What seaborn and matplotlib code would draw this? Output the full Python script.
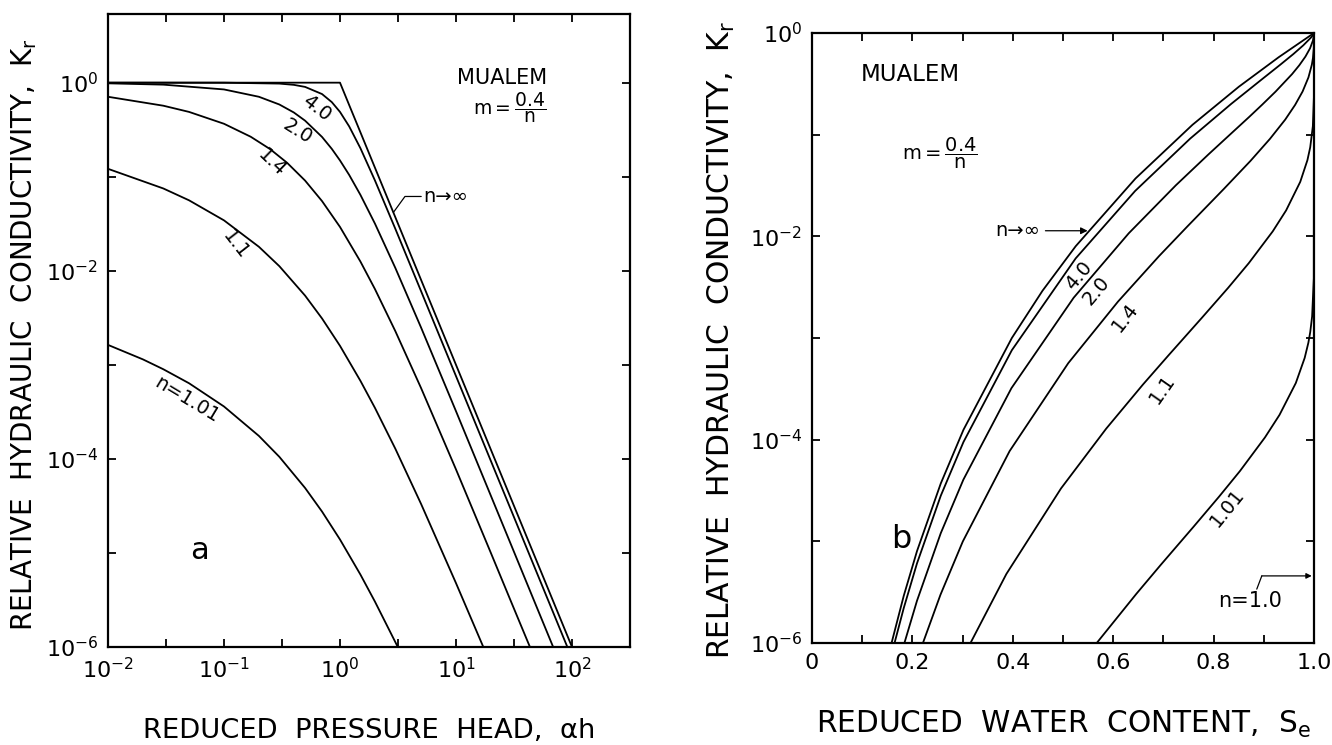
import numpy as np
import pandas as pd
import matplotlib
matplotlib.use("Agg")
import matplotlib.pyplot as plt
import seaborn as sns

# Relative hydraulic conductivity Kr (Mualem, m = 0.4/n) for several n.
# For every curve: reduced pressure head (alpha*h), reduced water content Se,
# and log10(Kr) read on the decade grid.
ah_inf = [0.01, 1.0, 1.2, 1.5, 2.0, 3.0, 5.0, 7.0, 10.0, 20.0, 30.0, 50.0, 70.0, 100.0]
se_inf = [1.0, 1.0, 0.9297, 0.8504, 0.7579, 0.6444, 0.5253, 0.4592, 0.3981, 0.3017,
          0.2565, 0.2091, 0.1828, 0.1585]
lkr_inf = [0.0, 0.0, -0.238, -0.528, -0.903, -1.431, -2.097, -2.535, -3.0, -3.903,
           -4.431, -5.097, -5.535, -6.0]

ah_40 = [0.01, 0.1, 0.3, 0.4, 0.5, 0.7, 0.85, 1.0, 1.2, 1.5, 2.0, 3.0, 5.0, 10.0,
         20.0, 30.0, 50.0, 70.0, 91.2]
se_40 = [1.0, 0.99999, 0.99919, 0.99748, 0.99396, 0.97871, 0.95887, 0.93303, 0.89377,
         0.83509, 0.75326, 0.64360, 0.52522, 0.39810, 0.30172, 0.25654, 0.20913,
         0.18283, 0.16443]
lkr_40 = [0.0, -0.0004, -0.0098, -0.0232, -0.045, -0.121, -0.207, -0.311, -0.465,
          -0.697, -1.039, -1.554, -2.217, -3.120, -4.023, -4.551, -5.217, -5.655, -6.0]

ah_20 = [0.01, 0.03, 0.1, 0.2, 0.3, 0.4, 0.5, 0.7, 0.85, 1.0, 1.2, 1.5, 2.0, 3.0,
         5.0, 10.0, 20.0, 30.0, 50.0, 68.8]
se_20 = [0.99998, 0.99982, 0.99801, 0.99219, 0.98291, 0.97075, 0.95635, 0.92336,
         0.89695, 0.87055, 0.83661, 0.78996, 0.72478, 0.63096, 0.52120, 0.39732,
         0.30157, 0.25648, 0.20911, 0.18409]
lkr_20 = [-0.007, -0.021, -0.072, -0.150, -0.232, -0.317, -0.404, -0.577, -0.704,
          -0.827, -0.981, -1.193, -1.498, -1.970, -2.604, -3.493, -4.393, -4.920,
          -5.585, -6.0]

ah_14 = [0.01, 0.03, 0.05, 0.1, 0.17, 0.25, 0.35, 0.5, 0.7, 1.0, 1.5, 2.0, 3.0, 5.0,
         10.0, 20.0, 30.0, 43.4]
se_14 = [0.99955, 0.99790, 0.99573, 0.98891, 0.97730, 0.96238, 0.94262, 0.91229,
         0.87326, 0.82034, 0.74788, 0.69140, 0.60953, 0.51052, 0.39369, 0.30043,
         0.25593, 0.22098]
lkr_14 = [-0.150, -0.245, -0.311, -0.437, -0.575, -0.707, -0.852, -1.041, -1.259,
          -1.534, -1.902, -2.194, -2.642, -3.247, -4.112, -5.001, -5.525, -6.0]

ah_11 = [0.001, 0.01, 0.03, 0.05, 0.1, 0.2, 0.3, 0.5, 0.7, 1.0, 1.5, 2.0, 3.0, 5.0,
         10.0, 17.2]
se_11 = [0.99982, 0.99772, 0.99243, 0.98686, 0.97259, 0.94443, 0.91780, 0.87002,
         0.82889, 0.77723, 0.71024, 0.65936, 0.58597, 0.49613, 0.38720, 0.31572]
lkr_11 = [-0.633, -0.916, -1.125, -1.251, -1.464, -1.745, -1.951, -2.264, -2.507,
          -2.798, -3.170, -3.457, -3.892, -4.479, -5.321, -6.0]

ah_101 = [0.001, 0.01, 0.02, 0.03, 0.05, 0.1, 0.2, 0.3, 0.5, 0.7, 1.0, 1.5, 2.0,
          3.0, 3.15]
se_101 = [0.99963, 0.99624, 0.99248, 0.98875, 0.98141, 0.96375, 0.93132, 0.90230,
          0.85243, 0.81094, 0.75997, 0.69496, 0.64601, 0.57564, 0.56720]
lkr_101 = [-2.413, -2.788, -2.942, -3.047, -3.196, -3.443, -3.756, -3.978, -4.309,
           -4.560, -4.857, -5.230, -5.517, -5.948, -6.0]

curves = [
    ("inf", ah_inf, se_inf, lkr_inf),
    ("4.0", ah_40, se_40, lkr_40),
    ("2.0", ah_20, se_20, lkr_20),
    ("1.4", ah_14, se_14, lkr_14),
    ("1.1", ah_11, se_11, lkr_11),
    ("1.01", ah_101, se_101, lkr_101),
]

# axis ticks and their labels
ah_ticks = [1e-2, 10 ** -1.5, 1e-1, 10 ** -0.5, 1e0, 10 ** 0.5, 1e1, 10 ** 1.5, 1e2]
ah_ticklabels = [r"$10^{-2}$", "", r"$10^{-1}$", "", r"$10^{0}$", "", r"$10^{1}$", "",
                 r"$10^{2}$"]
kr_ticks = [1e0, 1e-1, 1e-2, 1e-3, 1e-4, 1e-5, 1e-6]
kr_ticklabels = [r"$10^{0}$", "", r"$10^{-2}$", "", r"$10^{-4}$", "", r"$10^{-6}$"]
se_ticks = [0.0, 0.1, 0.2, 0.3, 0.4, 0.5, 0.6, 0.7, 0.8, 0.9, 1.0]
se_ticklabels = ["0", "", "0.2", "", "0.4", "", "0.6", "", "0.8", "", "1.0"]

# long-form table for seaborn
frames = []
for name, ah, se, lkr in curves:
    frames.append(pd.DataFrame({"n": name, "ah": ah, "Se": se,
                                "Kr": np.power(10.0, lkr)}))
df = pd.concat(frames, ignore_index=True)
# every curve meets full saturation at Se = 1, Kr = 1
sat = pd.DataFrame({"n": [c[0] for c in curves], "ah": np.nan, "Se": 1.0, "Kr": 1.0})
df_b = pd.concat([df, sat], ignore_index=True)

sns.set_theme(style="ticks")
plt.rcParams.update({
    "font.family": ["DejaVu Sans"],
    "mathtext.fontset": "dejavusans",
    "mathtext.default": "regular",
    "axes.linewidth": 1.5,
    "axes.edgecolor": "black",
    "text.color": "black",
    "xtick.color": "black",
    "ytick.color": "black",
})

fig = plt.figure(figsize=(13.32, 7.45), dpi=100)
ax_a = fig.add_axes([0.08108, 0.13154, 0.39189, 0.84966])
ax_b = fig.add_axes([0.60961, 0.13691, 0.37688, 0.81879])

ax_a.set_xscale("log")
ax_a.set_yscale("log")
ax_b.set_yscale("log")

sns.lineplot(data=df, x="ah", y="Kr", units="n", estimator=None, sort=True,
             color="black", linewidth=1.3, ax=ax_a, legend=False)
sns.lineplot(data=df_b, x="Se", y="Kr", units="n", estimator=None, sort=True,
             color="black", linewidth=1.3, ax=ax_b, legend=False)

ax_a.set_xlim(1e-2, 10 ** 2.5)
ax_a.set_ylim(1e-6, 10 ** 0.73)
ax_b.set_xlim(0.0, 1.0)
ax_b.set_ylim(1e-6, 1.0)

for ax in (ax_a, ax_b):
    ax.set_xlabel("")
    ax.set_ylabel("")
    ax.minorticks_off()
    ax.set_yticks(kr_ticks)
    ax.set_yticklabels(kr_ticklabels)
    ax.tick_params(which="both", direction="in", top=True, right=True,
                   length=6, width=1.3, labelsize=16, pad=7)
    for sp in ax.spines.values():
        sp.set_visible(True)
        sp.set_linewidth(1.6)

ax_a.set_xticks(ah_ticks)
ax_a.set_xticklabels(ah_ticklabels)
ax_a.minorticks_off()
ax_b.set_xticks(se_ticks)
ax_b.set_xticklabels(se_ticklabels)
ax_b.minorticks_off()

# ---- annotations, panel a
ax_a.text(10 ** 1.394, 10 ** 0.05, "MUALEM", fontsize=15, ha="center", va="center")
ax_a.text(10 ** 1.46, 10 ** -0.27, r"$m=\dfrac{0.4}{n}$", fontsize=13.5,
          ha="center", va="center")
ax_a.text(10 ** -1.21, 10 ** -4.976, "a", fontsize=22, ha="center", va="center")
for txt, lx, ly, rot in [("4.0", -0.2, -0.27, -38), ("2.0", -0.365, -0.518, -32),
                         ("1.4", -0.586, -0.854, -44), ("1.1", -0.898, -1.72, -52),
                         ("n=1.01", -1.32, -3.37, -31)]:
    ax_a.text(10 ** lx, 10 ** ly, txt, rotation=rot, rotation_mode="anchor",
              ha="center", va="center", fontsize=14)
ax_a.plot([10 ** 0.46, 10 ** 0.56, 10 ** 0.70], [10 ** -1.38, 10 ** -1.21, 10 ** -1.21],
          color="black", lw=0.9)
ax_a.text(10 ** 0.72, 10 ** -1.21, "n→∞", fontsize=14, ha="left", va="center")

# ---- annotations, panel b
ax_b.text(0.196, 10 ** -0.413, "MUALEM", fontsize=16.5, ha="center", va="center")
ax_b.text(0.254, 10 ** -1.185, r"$m=\dfrac{0.4}{n}$", fontsize=14,
          ha="center", va="center")
ax_b.text(0.178, 10 ** -4.98, "b", fontsize=23, ha="center", va="center")
for txt, sx, ly, rot in [("4.0", 0.532, -2.39, 50), ("2.0", 0.566, -2.53, 50),
                         ("1.4", 0.623, -2.80, 52), ("1.1", 0.697, -3.50, 55),
                         ("1.01", 0.828, -4.67, 51)]:
    ax_b.text(sx, 10 ** ly, txt, rotation=rot, rotation_mode="anchor",
              ha="center", va="center", fontsize=14)
ax_b.text(0.409, 10 ** -1.945, "n→∞", fontsize=14, ha="center", va="center")
ax_b.annotate("", xy=(0.549, 10 ** -1.945), xytext=(0.465, 10 ** -1.945),
              arrowprops=dict(arrowstyle="-|>", lw=0.9, color="black",
                              mutation_scale=10, shrinkA=0, shrinkB=0))
ax_b.text(0.872, 10 ** -5.59, "n=1.0", fontsize=15, ha="center", va="center")
ax_b.plot([0.886, 0.896], [10 ** -5.47, 10 ** -5.34], color="black", lw=0.9)
ax_b.annotate("", xy=(0.9955, 10 ** -5.34), xytext=(0.896, 10 ** -5.34),
              arrowprops=dict(arrowstyle="-|>", lw=0.9, color="black",
                              mutation_scale=8, shrinkA=0, shrinkB=0))

# ---- axis titles
fig.text(0.0184, 0.5503, "RELATIVE  HYDRAULIC  CONDUCTIVITY,  K$_r$", rotation=90,
         fontsize=20, ha="center", va="center")
fig.text(0.542, 0.5436, "RELATIVE  HYDRAULIC  CONDUCTIVITY,  K$_r$", rotation=90,
         fontsize=21.5, ha="center", va="center")
fig.text(0.277, 1 - 738 / 745, "REDUCED  PRESSURE  HEAD,  αh", fontsize=19.7,
         ha="center", va="baseline")
fig.text(0.798, 1 - 733 / 745, "REDUCED  WATER  CONTENT,  S$_e$", fontsize=21.3,
         ha="center", va="baseline")

fig.savefig("out.png", dpi=100, facecolor="white")
